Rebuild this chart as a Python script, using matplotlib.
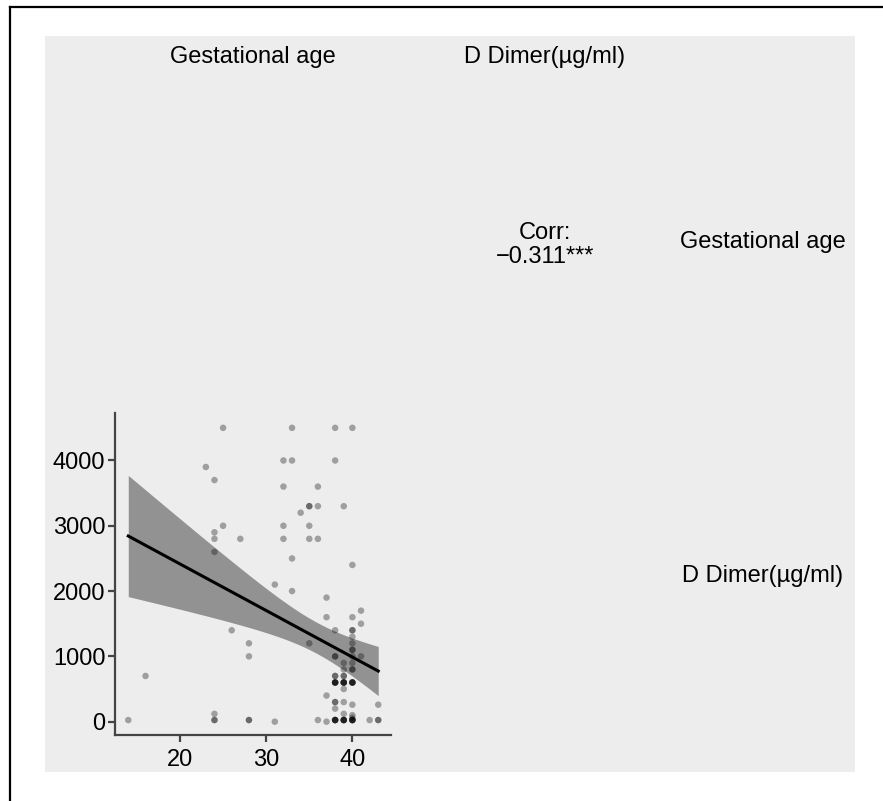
import matplotlib
matplotlib.use("Agg")
import matplotlib.pyplot as plt
import numpy as np
from matplotlib.lines import Line2D
from matplotlib.patches import Rectangle

plt.rcParams['font.family'] = ['Liberation Sans', 'DejaVu Sans']

# gestational age (weeks) and D dimer (ug/ml)
# one row per week; dark dots are several overlapping cases, repeated here
gest_age = ([14] + [16] + [23] + [24] * 7 + [25] * 2 + [26] + [27] + [28] * 4
            + [31] * 2 + [32] * 4 + [33] * 4 + [34] + [35] * 5 + [36] * 4 + [37] * 4
            + [38] * 20 + [39] * 18 + [40] * 26 + [41] * 3 + [42] + [43] * 3)
d_dimer = ([25] + [700] + [3900] + [3700, 2900, 2800, 2600, 120, 25, 25] + [4500, 3000] + [1400] + [2800]
           + [1200, 1000, 25, 25]
           + [2100, 0] + [4000, 3600, 3000, 2800] + [4500, 4000, 2500, 2000] + [3200]
           + [3300, 3300, 3000, 2800, 1200] + [3600, 3300, 2800, 25] + [1900, 1600, 400, 0]
           + [4500, 4000, 1400, 1000, 1000, 700, 700, 600, 600, 600, 600, 600, 300, 300, 200, 25, 25, 25, 25, 25]
           + [3300, 900, 800, 700, 700, 600, 600, 600, 600, 600, 500, 300, 120, 25, 25, 25, 25, 25]
           + [4500, 2400, 1600, 1400, 1400, 1300, 1200, 1100, 1100, 1000, 900, 800, 800,
              600, 600, 600, 600, 600, 260, 100, 60, 25, 25, 25, 25, 25]
           + [1700, 1500, 1000] + [25] + [260, 25, 25])

var_names = ["Gestational age", "D Dimer(\u00b5g/ml)"]
corr_label = "Corr:\n\u22120.311***"
x_ticks = [20, 30, 40]
y_ticks = [0, 1000, 2000, 3000, 4000]

W, H = 883, 801
fig = plt.figure(figsize=(W / 100, H / 100), dpi=100)


def fx(px):
    return px / W


def fy(py):
    return 1 - py / H


# grey panel and outer frame
fig.add_artist(Rectangle((fx(45), fy(772)), fx(855) - fx(45), fy(36) - fy(772),
                         transform=fig.transFigure, facecolor='#ededed', edgecolor='none', zorder=-5))
fig.add_artist(Line2D([fx(10), 1], [fy(7), fy(7)], color='black', lw=1.6, transform=fig.transFigure))
fig.add_artist(Line2D([fx(10), fx(10)], [0, fy(7)], color='black', lw=1.6, transform=fig.transFigure))

fs = 17
fig.text(fx(253), fy(57), var_names[0], ha='center', va='center', fontsize=fs)
fig.text(fx(545), fy(57), var_names[1], ha='center', va='center', fontsize=fs)
fig.text(fx(763), fy(242), var_names[0], ha='center', va='center', fontsize=fs)
fig.text(fx(763), fy(576), var_names[1], ha='center', va='center', fontsize=fs)
fig.text(fx(545), fy(245), corr_label, ha='center', va='center', fontsize=fs, linespacing=1.15)

ax = fig.add_axes([fx(115), fy(735), fx(391) - fx(115), fy(413) - fy(735)], zorder=2)
ax.patch.set_visible(False)

x = np.array(gest_age, dtype=float)
y = np.array(d_dimer, dtype=float)
ax.scatter(x, y, s=22, color='black', alpha=0.33, edgecolors='none', zorder=2)

# linear fit with 95% confidence band
b, a = np.polyfit(x, y, 1)
n = len(x)
resid = y - (a + b * x)
s = np.sqrt(np.sum(resid ** 2) / (n - 2))
xs = np.linspace(x.min(), x.max(), 100)
se = s * np.sqrt(1 / n + (xs - x.mean()) ** 2 / np.sum((x - x.mean()) ** 2))
yfit = a + b * xs
ax.fill_between(xs, yfit - 1.98 * se, yfit + 1.98 * se, color='black', alpha=0.38, lw=0, zorder=3)
ax.plot(xs, yfit, color='black', lw=2.2, zorder=4)

ax.set_xlim(12.46, 44.48)
ax.set_ylim(-204, 4727)
ax.set_xticks(x_ticks)
ax.set_yticks(y_ticks)
for side in ['top', 'right']:
    ax.spines[side].set_visible(False)
for side in ['left', 'bottom']:
    ax.spines[side].set_color('#444444')
    ax.spines[side].set_linewidth(1.6)
ax.tick_params(colors='#444444', width=1.6, length=5, labelsize=fs, labelcolor='black')
ax.tick_params(axis='y', pad=2)
ax.tick_params(axis='x', pad=5)

fig.savefig("out.png", dpi=100)
